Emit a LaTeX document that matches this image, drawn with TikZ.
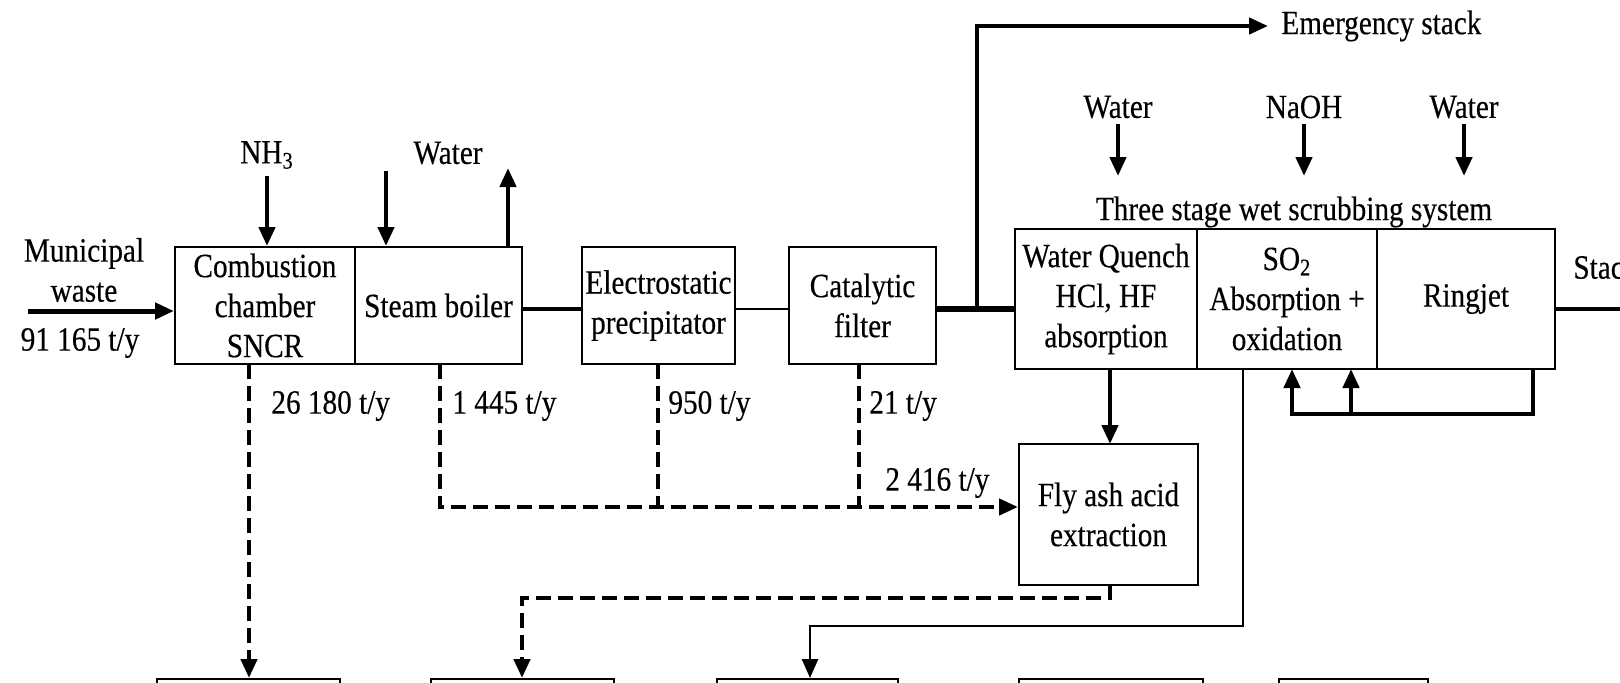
\documentclass[tikz,border=0pt]{standalone}
\usepackage{fontspec}
\setmainfont{Liberation Serif}[FakeStretch=0.86,FakeBold=0.35]
\usetikzlibrary{arrows.meta}
\tikzset{
  box/.style={draw, line width=1pt, align=center, inner sep=0pt, font=\fontsize{17}{20}\selectfont},
  lbl/.style={align=center, inner sep=0pt, font=\fontsize{17}{20}\selectfont},
  tip/.style={-{Triangle[length=9.5pt,width=8pt]}},
  flow/.style={line width=2.2pt},
  thinflow/.style={line width=1.3pt},
  ashline/.style={line width=2.2pt, dash pattern=on 7.5pt off 3.5pt},
}
\begin{document}
\begin{tikzpicture}[x=0.5pt,y=-0.5pt]
\useasboundingbox (0,0) rectangle (1620,682);
\clip (0,0) rectangle (1620,682);
% process boxes
\node[box, minimum width=90pt, minimum height=58.5pt] (comb) at (265,305.5) {Combustion\\chamber\\SNCR};
\node[box, minimum width=83.5pt, minimum height=58.5pt] (boil) at (438.5,305.5) {Steam boiler};
\node[box, minimum width=76.5pt, minimum height=58.5pt] (esp) at (658.5,305.5) {Electrostatic\\precipitator};
\node[box, minimum width=73.5pt, minimum height=58.5pt] (cat) at (862.5,305.5) {Catalytic\\filter};
\node[box, minimum width=91pt, minimum height=70pt] (quench) at (1106,299) {Water Quench\\HCl, HF\\absorption};
\node[box, minimum width=90pt, minimum height=70pt] (so2) at (1287,299) {SO\textsubscript{2}\\Absorption +\\oxidation};
\node[box, minimum width=89pt, minimum height=70pt] (ring) at (1466,299) {Ringjet};
\node[box, minimum width=89.5pt, minimum height=70.5pt] (fly) at (1108.5,514.5) {Fly ash acid\\extraction};
% bottom boxes (cut by the lower edge)
\node[box, anchor=north, minimum width=91.5pt, minimum height=40pt] (b1) at (248.5,678) {};
\node[box, anchor=north, minimum width=91.5pt, minimum height=40pt] (b2) at (522.5,678) {};
\node[box, anchor=north, minimum width=90.5pt, minimum height=40pt] (b3) at (807.5,678) {};
\node[box, anchor=north, minimum width=92pt, minimum height=40pt] (b4) at (1111,678) {};
\node[box, anchor=north, minimum width=74.5pt, minimum height=40pt] (b5) at (1353.5,678) {};
% labels
\node[lbl] (mw) at (84,270) {Municipal\\waste};
\node[lbl] (mwq) at (80,343) {91 165 t/y};
\node[lbl] (nh3) at (267,155) {NH\textsubscript{3}};
\node[lbl] (w1) at (448,153) {Water};
\node[lbl, anchor=west] (emg) at (1281,26) {Emergency stack};
\node[lbl] (w2) at (1118,107) {Water};
\node[lbl] (naoh) at (1304,107) {NaOH};
\node[lbl] (w3) at (1464,107) {Water};
\node[lbl] (title) at (1294,212) {Three stage wet scrubbing system};
\node[lbl, anchor=west] (stack) at (1573,267) {Stack};
\node[lbl, anchor=west] (q1) at (271,406) {26 180 t/y};
\node[lbl, anchor=west] (q2) at (452,406) {1 445 t/y};
\node[lbl, anchor=west] (q3) at (668,406) {950 t/y};
\node[lbl, anchor=west] (q4) at (869,406) {21 t/y};
\node[lbl, anchor=west] (q5) at (885,483) {2 416 t/y};
% coordinates
\coordinate (win) at (28,311);
\coordinate (nh3s) at (267,176);
\coordinate (w1s) at (386,171);
\coordinate (w1o) at (508,168);
\coordinate (br) at (977,309);
\coordinate (brt) at (977,26);
\coordinate (w2s) at (1118,124);
\coordinate (naohs) at (1304,124);
\coordinate (w3s) at (1464,124);
\coordinate (stk) at (1625,309);
% main gas flow
\draw[line width=2.5pt, tip] (win) -- (comb.west |- win);
\draw[flow, tip] (nh3s) -- (nh3s |- comb.north);
\draw[flow, tip] (w1s) -- (w1s |- boil.north);
\draw[flow, tip] (w1o |- boil.north) -- (w1o);
\draw[line width=1.6pt] (boil.east |- br) -- (esp.west |- br);
\draw[line width=1.4pt] (esp.east |- br) -- (cat.west |- br);
\draw[line width=2.8pt] (cat.east |- br) -- (quench.west |- br);
\draw[flow, tip] (br) -- (brt) -- (1268,26);
\draw[flow, tip] (w2s) -- (w2s |- 0,176);
\draw[flow, tip] (naohs) -- (naohs |- 0,176);
\draw[flow, tip] (w3s) -- (w3s |- 0,176);
\draw[line width=2.4pt] (ring.east |- stk) -- (stk);
% scrubber liquids
\draw[flow, tip] (1110,369) -- (1110,444);
\draw[flow, tip] (1533,369) -- (1533,414) -- (1292,414) -- (1292,369);
\draw[flow, tip] (1351,414) -- (1351,369);
\draw[thinflow, tip] (1243,369) -- (1243,626) -- (810,626) -- (b3.north -| 810,0);
% ash streams
\draw[ashline, tip] (249,364) -- (b1.north -| 249,0);
\draw[ashline, tip] (440,364) -- (440,507) -- (fly.west |- 0,507);
\draw[ashline] (658,364) -- (658,507);
\draw[ashline] (859,364) -- (859,507);
\draw[ashline, tip] (1110,585) -- (1110,598) -- (522,598) -- (b2.north -| 522,0);
\end{tikzpicture}
\end{document}
